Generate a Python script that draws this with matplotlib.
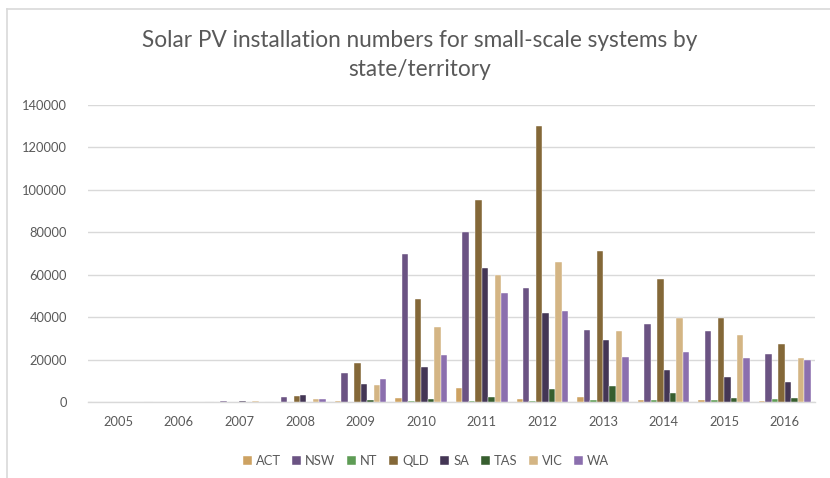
import numpy as np
import matplotlib
matplotlib.use('Agg')
import matplotlib.pyplot as plt
from matplotlib.lines import Line2D

years = ['2005', '2006', '2007', '2008', '2009', '2010',
         '2011', '2012', '2013', '2014', '2015', '2016']
states = ['ACT', 'NSW', 'NT', 'QLD', 'SA', 'TAS', 'VIC', 'WA']

act = [0, 0, 50, 150, 500, 2100, 6600, 1300, 2200, 800, 800, 300]
nsw = [0, 0, 500, 2400, 13800, 69800, 80100, 53700, 33800, 37000, 33400, 22400]
nt = [0, 0, 0, 20, 100, 300, 500, 300, 800, 800, 800, 1200]
qld = [0, 0, 100, 2700, 18300, 48600, 95000, 130300, 71000, 57800, 39400, 27300]
sa = [0, 0, 600, 3200, 8400, 16600, 63300, 41800, 29000, 14900, 11800, 9300]
tas = [0, 0, 20, 100, 1100, 1600, 2200, 6000, 7400, 4100, 1700, 1700]
vic = [0, 0, 300, 1400, 7900, 35400, 60100, 66100, 33300, 39700, 31400, 20600]
wa = [0, 0, 100, 1400, 11000, 22000, 51300, 42700, 21300, 23400, 20600, 19800]

series = [act, nsw, nt, qld, sa, tas, vic, wa]
colors = ['#CDA262', '#6B5383', '#5E9C55', '#846838', '#443655',
          '#375E2F', '#D4B584', '#8B6FAE']

plt.rcParams['font.family'] = ['Lato', 'DejaVu Sans']

W, H = 830, 478
fig = plt.figure(figsize=(W / 100, H / 100), dpi=100)
ax = fig.add_axes([88 / W, 1 - 402 / H, (815 - 88) / W, (402 - 105) / H])

x = np.arange(len(years))
bw = 0.1065
for i, (vals, c, name) in enumerate(zip(series, colors, states)):
    ax.bar(x + (i - 3.5) * bw, vals, width=bw, color=c, label=name,
           edgecolor='white', linewidth=0.3, zorder=3)

ax.set_xlim(-0.5, len(years) - 0.5)
ax.set_ylim(0, 140000)
ax.set_yticks(np.arange(0, 140001, 20000))
ax.set_yticklabels([str(v) for v in range(0, 140001, 20000)])
ax.set_xticks(x)
ax.set_xticklabels(years)
ax.grid(axis='y', color='#D9D9D9', linewidth=1, zorder=0)
for s in ['top', 'right', 'left']:
    ax.spines[s].set_visible(False)
ax.spines['bottom'].set_color('#D9D9D9')
ax.spines['bottom'].set_linewidth(1)
ax.tick_params(length=0, labelsize=9.3, labelcolor='#595959')
ax.tick_params(axis='y', pad=15)
ax.tick_params(axis='x', pad=10)

fig.text(0.506, 1 - 55 / H,
         'Solar PV installation numbers for small-scale systems by\nstate/territory',
         ha='center', va='center', fontsize=16.3, color='#595959', linespacing=1.5)

fig.legend(loc='center', bbox_to_anchor=(426 / W, 1 - 461 / H), ncol=8,
           frameon=False, fontsize=9.3, handlelength=0.7, handleheight=0.7,
           handletextpad=0.3, columnspacing=0.9, labelcolor='#595959')

# chart border (only left and top edges visible in the crop)
fig.add_artist(Line2D([6.5 / W, 6.5 / W], [0, 1 - 8.5 / H], transform=fig.transFigure,
                      color='#D9D9D9', linewidth=1.2))
fig.add_artist(Line2D([6.5 / W, 1], [1 - 8.5 / H, 1 - 8.5 / H], transform=fig.transFigure,
                      color='#D9D9D9', linewidth=1.2))

fig.savefig('out.png', dpi=100)
